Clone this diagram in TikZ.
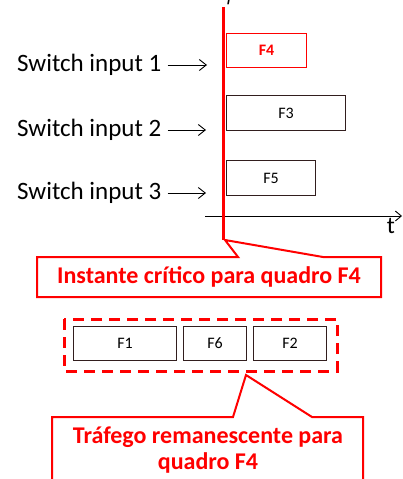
\documentclass[tikz,border=0pt]{standalone}
\usepackage{fontspec}
\setmainfont{Carlito}
\newfontfamily\serifit{Liberation Serif}
\usetikzlibrary{arrows.meta}
\definecolor{cred}{RGB}{255,0,0}
\definecolor{frameb}{RGB}{50,30,30}
\tikzset{
  frame/.style={draw=frameb, line width=1pt, inner sep=0pt, anchor=north west, font=\fontsize{16}{18}\selectfont},
  lbl/.style={anchor=west, inner sep=0pt, font=\fontsize{25}{28}\selectfont},
  inarrow/.style={-{Straight Barb[length=7pt,width=11pt]}, line width=0.9pt},
  callout/.style={draw=cred, line width=2pt, fill=white},
  ctext/.style={text=cred, font=\bfseries\fontsize{24}{28}\selectfont, align=center, inner sep=0pt}
}
\begin{document}
\begin{tikzpicture}[x=1pt,y=-1pt]
\useasboundingbox (0,0) rectangle (403,479);
% cut-off label at top
\node[font=\serifit\itshape\fontsize{20}{22}\selectfont, anchor=base, inner sep=0pt] (ftop) at (230,1) {f};
% boxes
\node[frame, draw=cred, text=cred, font=\bfseries\fontsize{16}{18}\selectfont, minimum width=80pt, minimum height=34pt] (F4) at (226,33) {F4};
\node[frame, minimum width=119pt, minimum height=35pt] (F3) at (226,95) {F3};
\node[frame, minimum width=89pt, minimum height=35pt] (F5) at (226,160) {F5};
% time axis
\coordinate (ax0) at (205,216);
\coordinate (ax1) at (402,216);
\draw[line width=0.9pt, -{Straight Barb[length=6pt,width=10pt]}] (ax0) -- (ax1);
\node[font=\fontsize{24}{26}\selectfont, inner sep=0pt] (t) at (391,226) {t};
% red vertical line
\coordinate (v0) at (223,7);
\coordinate (v1) at (223,240);
\draw[cred, line width=3pt] (v0) -- (v1);
% switch inputs
\node[lbl] (s1) at (17,65) {Switch input 1};
\node[lbl] (s2) at (17,130) {Switch input 2};
\node[lbl] (s3) at (17,193) {Switch input 3};
\coordinate (a1) at (207,65);
\coordinate (a2) at (206,130);
\coordinate (a3) at (206,193);
\draw[inarrow] ([xshift=6pt]s1.east) -- (a1);
\draw[inarrow] ([xshift=6pt]s2.east) -- (a2);
\draw[inarrow] ([xshift=6pt]s3.east) -- (a3);
% callout 1
\draw[callout] (37,257) -- (238,257) -- (225,240) -- (323,257) -- (381,257) -- (381,297) -- (37,297) -- cycle;
\node[ctext] (c1) at (209,277) {Instante crítico para quadro F4};
% remaining traffic
\draw[cred, line width=3pt, dash pattern=on 11pt off 7pt] (64,319) rectangle (337,371);
\node[frame, minimum width=103pt, minimum height=34pt] (F1) at (73,326) {F1};
\node[frame, minimum width=63pt, minimum height=34pt] (F6) at (183,326) {F6};
\node[frame, minimum width=73pt, minimum height=34pt] (F2) at (253,326) {F2};
% callout 2
\draw[callout] (52,417) -- (233,417) -- (246,375) -- (312,417) -- (363,417) -- (363,482) -- (52,482) -- cycle;
\node[ctext] (c2) at (208,437) {Tráfego remanescente para};
\node[ctext] (c3) at (208,463) {quadro F4};
\end{tikzpicture}
\end{document}
